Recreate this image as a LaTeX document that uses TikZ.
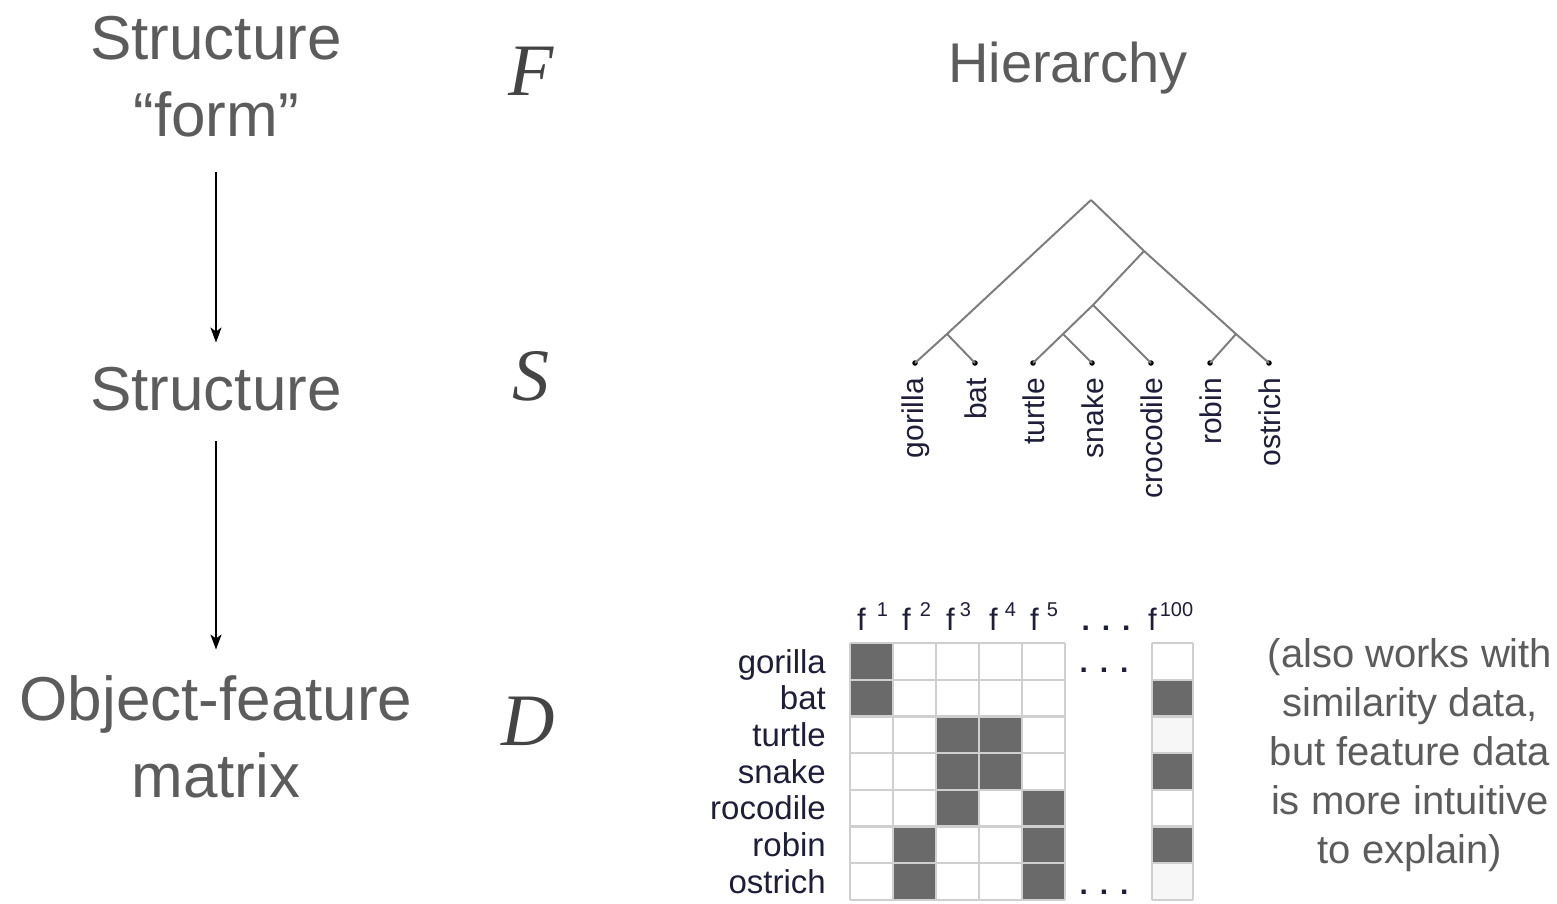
\documentclass[tikz,border=0pt]{standalone}
\usepackage{fontspec}
\setmainfont{Liberation Sans}
\newfontfamily\serifit{Liberation Serif}
\usetikzlibrary{arrows.meta}
\definecolor{txt}{HTML}{5C5C5C}
\definecolor{symc}{HTML}{444444}
\definecolor{lbl}{HTML}{1E1E3A}
\definecolor{branch}{HTML}{7E7E7E}
\definecolor{cellon}{HTML}{6A6A6A}
\definecolor{gridc}{HTML}{CFCFCF}
\definecolor{faint}{HTML}{F7F7F7}

\begin{document}
\begin{tikzpicture}[x=1pt,y=-1pt,
  big/.style={text=txt,font=\fontsize{62}{77}\selectfont,align=center,inner sep=0pt},
  side/.style={text=txt,font=\fontsize{40}{49}\selectfont,align=center,inner sep=0pt},
  sym/.style={text=symc,font=\fontsize{74}{74}\serifit\itshape,inner sep=0pt,anchor=base},
  arr/.style={line width=2.2pt,-{Stealth[length=15pt,width=11pt,inset=4pt]}},
  edge/.style={draw=branch,line width=2pt},
  leaf/.style={circle,fill=black,inner sep=0pt,minimum size=5.5pt},
  leaflbl/.style={rotate=90,anchor=east,text=lbl,font=\fontsize{30}{30}\selectfont,inner sep=0pt},
  rowlbl/.style={anchor=base east,text=lbl,font=\fontsize{33}{33}\selectfont,inner sep=0pt},
  head/.style={anchor=base west,text=lbl,font=\fontsize{31}{31}\selectfont,inner sep=0pt},
  dots/.style={text=lbl,font=\fontsize{30}{30}\selectfont\bfseries,inner sep=0pt},
  gridline/.style={draw=gridc,line width=2.2pt}
]
\useasboundingbox[fill=white] (0,0) rectangle (1557,903);

% left column: the three levels of the model
\node[big] (form) at (216,77) {Structure\\“form”};
\node[big,anchor=base] (struct) at (216,410) {Structure};
\node[big] (ofm) at (216,737) {Object-feature\\matrix};
\draw[arr,shorten <=34pt,shorten >=24pt] (form) -- (struct);
\draw[arr,shorten <=30pt,shorten >=26pt] (struct) -- (ofm);

% symbols
\node[sym] (F) at (531,95) {F};
\node[sym] (S) at (531,400) {S};
\node[sym] (D) at (528,745) {D};

% hierarchy
\node[text=txt,font=\fontsize{56}{56}\selectfont,anchor=base,inner sep=0pt] (title) at (1068,82) {Hierarchy};

\coordinate (root) at (1091,200);
\coordinate (gb) at (947,334);
\coordinate (rt) at (1144,251);
\coordinate (ro) at (1236,334);
\coordinate (tsc) at (1093,305);
\coordinate (ts) at (1063,334);
\foreach \n/\x in {gorilla/915,bat/975,turtle/1033,snake/1092,crocodile/1151,robin/1210,ostrich/1269}{
  \node[leaf] (\n) at (\x,363) {};
  \node[leaflbl] (l-\n) at (\x+1,378) {\n};
}
\draw[edge] (root) -- (gb) -- (gorilla.center);
\draw[edge] (gb) -- (bat.center);
\draw[edge] (root) -- (rt) -- (ro) -- (ostrich.center);
\draw[edge] (ro) -- (robin.center);
\draw[edge] (rt) -- (tsc) -- (ts) -- (turtle.center);
\draw[edge] (tsc) -- (crocodile.center);
\draw[edge] (ts) -- (snake.center);

% feature matrix: filled cells
\foreach \c/\r in {1/0,1/1,3/2,4/2,3/3,4/3,3/4,5/4,2/5,5/5,2/6,5/6}
  \fill[cellon] ({850+43*(\c-1)},{643+36.7*\r}) rectangle ++(43,36.7);
\foreach \r in {2,6}
  \fill[faint] (1152,{643+36.7*\r}) rectangle ++(41,36.7);
\foreach \r in {1,3,5}
  \fill[cellon] (1152,{643+36.7*\r}) rectangle ++(41,36.7);
% grid lines
\foreach \i in {0,...,5}
  \draw[gridline] ({850+43*\i},643) -- ({850+43*\i},900);
\foreach \r in {0,...,7}{
  \draw[gridline] (850,{643+36.7*\r}) -- (1065,{643+36.7*\r});
  \draw[gridline] (1152,{643+36.7*\r}) -- (1193,{643+36.7*\r});
}
\draw[gridline] (1152,643) -- (1152,900);
\draw[gridline] (1193,643) -- (1193,900);

% row labels
\foreach \t/\r in {gorilla/0,bat/1,turtle/2,snake/3,rocodile/4,robin/5,ostrich/6}
  \node[rowlbl] (r-\t) at (826,{643+36.7*\r+30}) {\t};

% column headers
\foreach \x/\g/\s/\n in {857/11/1/h1,902/9/2/h2,946/5/3/h3,989/7/4/h4,1030/8/5/h5,1148/3/100/h100}
  \node[head] (\n) at (\x,630) {f\hspace{\g pt}\raisebox{14pt}{\fontsize{20}{20}\selectfont\s}};

\node[dots,anchor=base] (d0) at (1106,630) {.\hspace{12pt}.\hspace{12pt}.};
\node[dots,anchor=base] (d1) at (1104,672) {.\hspace{12pt}.\hspace{12pt}.};
\node[dots,anchor=base] (d2) at (1104,894) {.\hspace{12pt}.\hspace{12pt}.};

% side note
\node[side] (note) at (1410,755) {(also works with\\similarity data,\\but feature data\\is more intuitive\\to explain)};
\end{tikzpicture}
\end{document}
